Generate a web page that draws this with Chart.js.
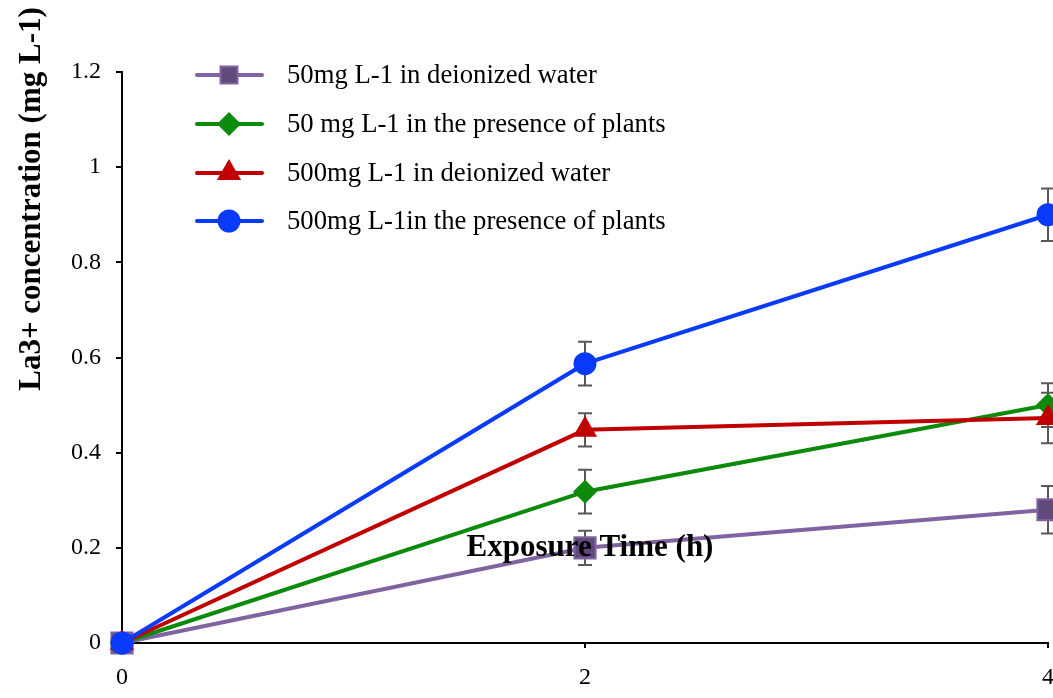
<!DOCTYPE html>
<html>
<head>
<meta charset="utf-8">
<script src="https://cdn.jsdelivr.net/npm/chart.js@4/dist/chart.umd.min.js"></script>
<style>
  html, body { margin: 0; padding: 0; background: #fff; overflow: hidden; }
  #wrap { width: 1053px; height: 698px; }
</style>
</head>
<body>
<div id="wrap"><canvas id="laChart" width="1053" height="698"></canvas></div>
<script>
const timeLabels = ["0", "2", "4"];
const yTicks = [0, 0.2, 0.4, 0.6, 0.8, 1, 1.2];

const seriesNames = [
    "50mg L-1 in deionized water",
    "50 mg L-1 in the presence of plants",
    "500mg L-1 in deionized water",
    "500mg L-1in the presence of plants"
];
const water50 = [0, 0.2, 0.28];
const plants50 = [0, 0.318, 0.5];
const water500 = [0, 0.448, 0.473];
const plants500 = [0, 0.587, 0.9];

const water50Err = [0, 0.036, 0.05];
const plants50Err = [0, 0.046, 0.046];
const water500Err = [0, 0.035, 0.053];
const plants500Err = [0, 0.046, 0.055];

const serif = "'Liberation Serif', 'Times New Roman', serif";

function mkSet(label, data, err, color, fill, style, radius, order) {
    return {
        label: label,
        data: data,
        errors: err,
        borderColor: color,
        borderWidth: 4,
        backgroundColor: fill,
        pointBackgroundColor: fill,
        pointBorderColor: color,
        pointBorderWidth: style === "rect" ? 2 : 0,
        pointStyle: style,
        pointRadius: radius,
        pointHoverRadius: radius,
        tension: 0,
        clip: false,
        order: order
    };
}

const datasets = [
    mkSet(seriesNames[0], water50, water50Err, "#8064a2", "#604a7b", "rect", 15, 3),
    mkSet(seriesNames[1], plants50, plants50Err, "#0b8a0b", "#0b8a0b", "rectRot", 12, 2),
    mkSet(seriesNames[2], water500, water500Err, "#c00000", "#c00000", "triangle", 14, 1),
    mkSet(seriesNames[3], plants500, plants500Err, "#0a3bfa", "#0a3bfa", "circle", 11.5, 0)
];

// error bars, drawn under the markers
const errorBars = {
    id: "errorBars",
    beforeDatasetsDraw(chart) {
        const ctx = chart.ctx;
        const y = chart.scales.y;
        ctx.save();
        ctx.strokeStyle = "#595959";
        ctx.lineWidth = 2;
        chart.data.datasets.forEach((ds, di) => {
            const meta = chart.getDatasetMeta(di);
            ds.data.forEach((v, i) => {
                const e = ds.errors[i];
                if (!e) return;
                const px = meta.data[i].x;
                const top = y.getPixelForValue(v + e);
                const bot = y.getPixelForValue(v - e);
                ctx.beginPath();
                ctx.moveTo(px, top); ctx.lineTo(px, bot);
                ctx.moveTo(px - 7, top); ctx.lineTo(px + 7, top);
                ctx.moveTo(px - 7, bot); ctx.lineTo(px + 7, bot);
                ctx.stroke();
            });
        });
        ctx.restore();
    }
};

// legend inside the plot, axis titles placed like the original
const extras = {
    id: "extras",
    afterDraw(chart) {
        const ctx = chart.ctx;
        const rows = [75, 124, 173, 221];
        ctx.save();
        chart.data.datasets.forEach((ds, i) => {
            const yy = rows[i];
            ctx.strokeStyle = ds.borderColor;
            ctx.lineWidth = 4;
            ctx.lineCap = "round";
            ctx.beginPath();
            ctx.moveTo(197, yy); ctx.lineTo(262, yy);
            ctx.stroke();
            ctx.fillStyle = ds.pointBackgroundColor;
            ctx.strokeStyle = ds.pointBorderColor;
            ctx.lineWidth = ds.pointBorderWidth;
            Chart.helpers.drawPoint(ctx, {
                pointStyle: ds.pointStyle,
                radius: ds.pointStyle === "rect" ? 12 : ds.pointRadius,
                rotation: 0,
                borderWidth: ds.pointBorderWidth
            }, 229, yy);
            ctx.fillStyle = "#000";
            ctx.font = "26.7px " + serif;
            ctx.textAlign = "left";
            ctx.textBaseline = "middle";
            ctx.fillText(ds.label, 287, yy + 1);
        });

        ctx.font = "bold 31px " + serif;
        ctx.fillStyle = "#000";
        ctx.textAlign = "center";
        ctx.textBaseline = "middle";
        ctx.fillText("Exposure Time (h)", 590, 548);

        ctx.translate(32, 199);
        ctx.rotate(-Math.PI / 2);
        ctx.fillText("La3+ concentration (mg L-1)", 0, 0);
        ctx.restore();
    }
};

new Chart(document.getElementById("laChart").getContext("2d"), {
    type: "line",
    data: { labels: timeLabels, datasets: datasets },
    plugins: [errorBars, extras],
    options: {
        responsive: false,
        animation: false,
        layout: { autoPadding: false, padding: { top: 72, right: 0, left: 0, bottom: 0 } },
        plugins: { legend: { display: false }, tooltip: { enabled: false } },
        scales: {
            x: {
                offset: false,
                z: 1,
                border: { display: true, color: "#000", width: 2 },
                grid: { drawOnChartArea: false, drawTicks: true, tickLength: 5, color: "#000", lineWidth: 2 },
                ticks: { color: "#000", font: { family: serif, size: 24 }, padding: 15, maxRotation: 0 },
                afterFit(s) { s.height = 55; s.paddingRight = 5; s.paddingLeft = 0; }
            },
            y: {
                min: 0,
                max: 1.2,
                z: 1,
                afterBuildTicks(s) { s.ticks = yTicks.map(v => ({ value: v })); },
                border: { display: true, color: "#000", width: 2 },
                grid: { drawOnChartArea: false, drawTicks: true, tickLength: 6, color: "#000", lineWidth: 2 },
                ticks: {
                    color: "#000",
                    font: { family: serif, size: 24 },
                    padding: 15,
                    callback: v => String(Math.round(v * 10) / 10)
                },
                afterFit(s) { s.width = 122; }
            }
        }
    }
});
</script>
</body>
</html>
